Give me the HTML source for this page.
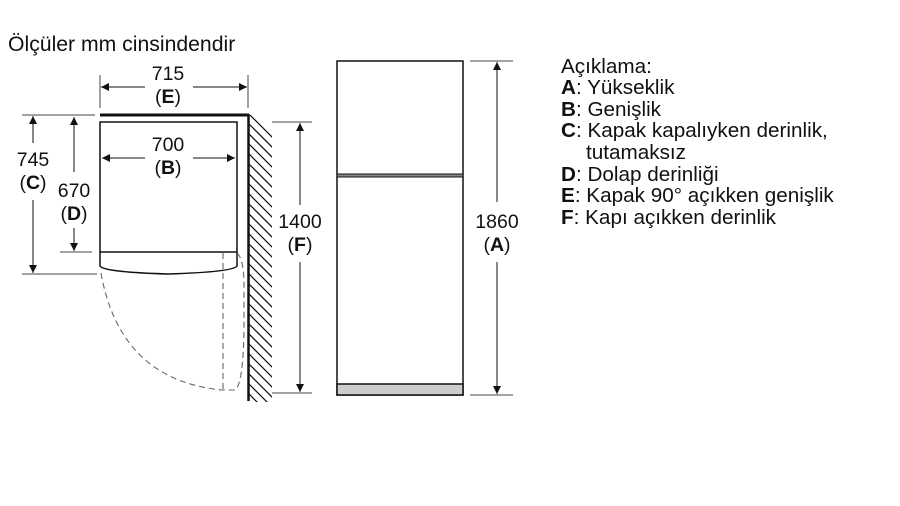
<!DOCTYPE html>
<html><head><meta charset="utf-8"><style>
body{margin:0;background:#fff}
svg{display:block}
text{font-family:"Liberation Sans",sans-serif;fill:#111}
.l text{font-size:20.7px}
</style></head><body>
<svg width="900" height="506" viewBox="0 0 900 506" xmlns="http://www.w3.org/2000/svg">
<defs>
<marker id="a" viewBox="0 0 10 10" refX="10" refY="5" markerWidth="10" markerHeight="8" orient="auto-start-reverse" markerUnits="userSpaceOnUse"><path d="M0,0L10,5L0,10z" fill="#111"/></marker>
<clipPath id="h"><rect x="249" y="115" width="23" height="287"/></clipPath>
</defs>
<text x="8" y="51" font-size="21.2">Ölçüler mm cinsindendir</text>

<g stroke="#111" fill="none">
<line x1="100" y1="115" x2="249" y2="115" stroke-width="3"/>
<line x1="248.5" y1="114" x2="248.5" y2="401" stroke-width="2.5"/>
<rect x="100" y="122" width="137" height="130" stroke-width="1.5"/>
<path d="M100,252 L100,266 Q103,272 168,274 Q233,272 237,266 L237,252" stroke-width="1.5"/>
<g clip-path="url(#h)" stroke-width="1.2">
<path d="M240,105l40,40M240,115l40,40M240,125l40,40M240,135l40,40M240,145l40,40M240,155l40,40M240,165l40,40M240,175l40,40M240,185l40,40M240,195l40,40M240,205l40,40M240,215l40,40M240,225l40,40M240,235l40,40M240,245l40,40M240,255l40,40M240,265l40,40M240,275l40,40M240,285l40,40M240,295l40,40M240,305l40,40M240,315l40,40M240,325l40,40M240,335l40,40M240,345l40,40M240,355l40,40M240,365l40,40M240,375l40,40M240,385l40,40M240,395l40,40"/>
</g>
<g stroke="#666" stroke-dasharray="6,4" stroke-width="1.1">
<path d="M101,273 Q120,380 222,390 L235,390 Q243,385 244,330 L244,280 Q243,258 237,253"/>
<line x1="223" y1="253" x2="223" y2="390"/>
</g>
<g stroke="#444" stroke-width="1">
<line x1="100" y1="75" x2="100" y2="108"/><line x1="248" y1="75" x2="248" y2="108"/>
<line x1="22" y1="115" x2="95" y2="115"/><line x1="22" y1="274" x2="97" y2="274"/>
<line x1="60" y1="252" x2="92" y2="252"/>
<line x1="272" y1="122" x2="312" y2="122"/><line x1="272" y1="393" x2="312" y2="393"/>
<line x1="470" y1="61" x2="513" y2="61"/><line x1="470" y1="395" x2="513" y2="395"/>
</g>
<g stroke="#111" stroke-width="1">
<line x1="101" y1="87" x2="145" y2="87" marker-start="url(#a)"/><line x1="193" y1="87" x2="247" y2="87" marker-end="url(#a)"/>
<line x1="102" y1="158" x2="145" y2="158" marker-start="url(#a)"/><line x1="193" y1="158" x2="235" y2="158" marker-end="url(#a)"/>
<line x1="33" y1="116" x2="33" y2="143" marker-start="url(#a)"/><line x1="33" y1="200" x2="33" y2="273" marker-end="url(#a)"/>
<line x1="74" y1="117" x2="74" y2="172" marker-start="url(#a)"/><line x1="74" y1="228" x2="74" y2="251" marker-end="url(#a)"/>
<line x1="300" y1="123" x2="300" y2="205" marker-start="url(#a)"/><line x1="300" y1="262" x2="300" y2="392" marker-end="url(#a)"/>
<line x1="497" y1="62" x2="497" y2="202" marker-start="url(#a)"/><line x1="497" y1="262" x2="497" y2="394" marker-end="url(#a)"/>
</g>
<rect x="337" y="61" width="126" height="334" stroke-width="1.5"/>
<rect x="337" y="174" width="126" height="3" fill="#888" stroke-width="1"/>
<rect x="337" y="384" width="126" height="11" fill="#ccc" stroke-width="1.5"/>
</g>
<g font-size="19.5" text-anchor="middle">
<text x="168" y="80">715</text><text x="168" y="103">(<tspan font-weight="bold">E</tspan>)</text>
<text x="168" y="151">700</text><text x="168" y="174">(<tspan font-weight="bold">B</tspan>)</text>
<text x="33" y="166">745</text><text x="33" y="189">(<tspan font-weight="bold">C</tspan>)</text>
<text x="74" y="197">670</text><text x="74" y="220">(<tspan font-weight="bold">D</tspan>)</text>
<text x="300" y="228">1400</text><text x="300" y="251">(<tspan font-weight="bold">F</tspan>)</text>
<text x="497" y="228">1860</text><text x="497" y="251">(<tspan font-weight="bold">A</tspan>)</text>
</g>
<g class="l">
<text x="561" y="73">Açıklama:</text>
<text x="561" y="94"><tspan font-weight="bold">A</tspan>: Yükseklik</text>
<text x="561" y="116"><tspan font-weight="bold">B</tspan>: Genişlik</text>
<text x="561" y="137"><tspan font-weight="bold">C</tspan>: Kapak kapalıyken derinlik,</text>
<text x="586" y="159">tutamaksız</text>
<text x="561" y="181"><tspan font-weight="bold">D</tspan>: Dolap derinliği</text>
<text x="561" y="202"><tspan font-weight="bold">E</tspan>: Kapak 90° açıkken genişlik</text>
<text x="561" y="224"><tspan font-weight="bold">F</tspan>: Kapı açıkken derinlik</text>
</g>
</svg>
</body></html>
